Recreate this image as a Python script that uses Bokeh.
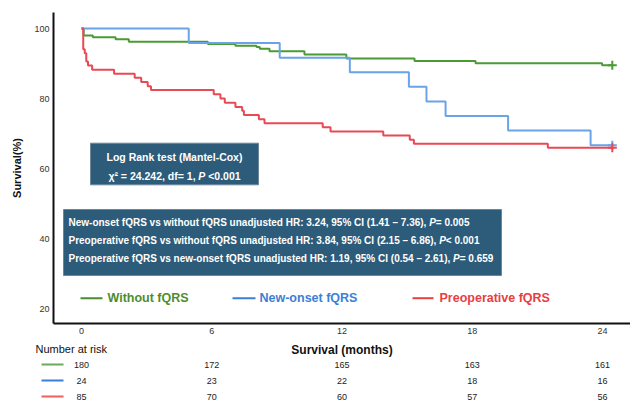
from bokeh.plotting import figure
from bokeh.models import Range1d, ColumnDataSource, FixedTicker
from bokeh.core.properties import value
from bokeh.embed import file_html
from bokeh.resources import INLINE

# ---------------- data ----------------
series_names = ["Without fQRS", "New-onset fQRS", "Preoperative fQRS"]

green_t = [0, 0.10, 0.52, 1.57, 2.18, 5.82, 7.09, 8.06, 8.21, 8.66, 10.27, 12.2, 15.34, 18.15, 23.98, 24.45]
green_s = [100, 98.0, 97.5, 96.9, 96.2, 95.6, 95.1, 94.7, 94.2, 93.5, 92.6, 91.4, 90.7, 90.1, 89.5, 89.5]

blue_t = [0, 4.94, 9.13, 12.36, 15.08, 15.89, 16.77, 19.65, 23.45, 24.45]
blue_s = [100, 95.83, 91.67, 87.5, 83.33, 79.17, 75.0, 70.83, 66.67, 66.67]

red_t = [0, 0.08, 0.15, 0.22, 0.30, 0.49, 1.50, 2.45, 2.75, 3.05, 3.20, 6.09, 6.40, 6.60, 7.09,
         7.40, 7.48, 8.17, 8.43, 11.11, 11.47, 13.90, 15.12, 15.31, 21.48, 24.45]
red_s = [100, 94.1, 92.9, 90.6, 89.4, 88.2, 87.1, 85.9, 84.7, 83.5, 82.4, 81.2, 80.0, 78.8, 77.6,
         76.5, 75.3, 74.1, 72.9, 71.8, 70.6, 69.4, 68.2, 67.1, 65.9, 65.9]

x_ticks = [0, 6, 12, 18, 24]
y_ticks = [20, 40, 60, 80, 100]

risk_times = [0, 6, 12, 18, 24]
risk_without = [180, 172, 165, 163, 161]
risk_newonset = [24, 23, 22, 18, 16]
risk_preop = [85, 70, 60, 57, 56]

logrank_title = "Log Rank test (Mantel-Cox)"
logrank_pre = "\u03c7\u00b2 = 24.242, df= 1,"
logrank_post = "<0.001"

hr_pre = [
    "New-onset fQRS vs without fQRS unadjusted HR: 3.24, 95% CI (1.41 \u2013 7.36),",
    "Preoperative fQRS vs without fQRS unadjusted HR: 3.84, 95% CI (2.15 \u2013 6.86),",
    "Preoperative fQRS vs new-onset fQRS unadjusted HR: 1.19, 95% CI (0.54 \u2013 2.61),",
]
hr_post = ["= 0.005", "< 0.001", "= 0.659"]

# ---------------- styles ----------------
FONT = "Liberation Sans"
line_colors = ["#4b9a36", "#6aa3e8", "#e84a55"]
text_colors = ["#4e8d2f", "#3d7fd6", "#e8403f"]
table_colors = ["#6aaa5a", "#3d7fd6", "#f0605f"]
BOX_FILL = "#2d5b7a"
BOX_LINE = "#6c8799"

# Arial/Liberation Sans Bold advance widths (per 1000 em) for layout of mixed-style runs
_BW = {" ": 278, "(": 333, ")": 333, ",": 278, "-": 333, ".": 278, ":": 333, "<": 584, "=": 584,
       "%": 889, "\u2013": 556, "\u03c7": 556, "\u00b2": 333,
       "C": 722, "H": 722, "I": 278, "N": 722, "P": 667, "Q": 778, "R": 722, "S": 667,
       "a": 556, "d": 611, "e": 556, "f": 333, "h": 611, "i": 278, "j": 278, "n": 611, "o": 611,
       "p": 611, "r": 389, "s": 556, "t": 333, "u": 611, "v": 556, "w": 778}

def text_w(s, size):
    return sum(_BW.get(ch, 556) for ch in s) / 1000.0 * size

# page-pixel -> data helpers (frame spans whole figure)
def mx(px):
    return (px - 81) / 21.71

def vy(py):
    return 100 - (py - 28) / 3.5

W, H = 630, 407
p = figure(width=W, height=H, output_backend="svg", toolbar_location=None,
           x_range=Range1d(mx(0), mx(W)), y_range=Range1d(vy(H), vy(0)),
           min_border=0, min_border_left=0, min_border_right=0,
           min_border_top=0, min_border_bottom=0)
p.outline_line_color = None
p.xgrid.visible = False
p.ygrid.visible = False
p.background_fill_color = "white"
p.border_fill_color = "white"

x0_axis = mx(53)
y0_axis = vy(323)

# axes
for ax in (p.xaxis[0], p.yaxis[0]):
    ax.axis_line_width = 2
    ax.axis_line_color = "#111111"
    ax.major_tick_out = 0
    ax.major_tick_in = 0
    ax.minor_tick_line_color = None
    ax.major_label_text_font = FONT
    ax.major_label_text_font_size = "9px"
    ax.major_label_text_color = "#333333"
    ax.axis_label_text_font = FONT
    ax.axis_label_text_font_style = "bold"
    ax.axis_label_text_color = "#111111"

p.xaxis.fixed_location = y0_axis
p.xaxis.bounds = (x0_axis, mx(W))
p.xaxis.ticker = FixedTicker(ticks=x_ticks)
p.xaxis.major_label_standoff = 4
p.xaxis.axis_label = "Survival (months)"
p.xaxis.axis_label_text_font_size = "12px"
p.xaxis.axis_label_standoff = 6

p.yaxis.fixed_location = x0_axis
p.yaxis.bounds = (y0_axis, vy(12))
p.yaxis.ticker = FixedTicker(ticks=y_ticks)
p.yaxis.major_label_standoff = 4
p.yaxis.axis_label = "Survival(%)"
p.yaxis.axis_label_text_font_size = "11px"
p.yaxis.axis_label_standoff = 8

# curves
curves = [(green_t, green_s), (blue_t, blue_s), (red_t, red_s)]
for (t, s), c in zip(curves, line_colors):
    p.step(t, s, mode="after", line_color=c, line_width=2)
    p.scatter([t[-1]], [s[-1]], marker="cross", size=9, line_color=c, line_width=2)

def mixed_line(x_px, y_val, pre, post, size, space_after_p):
    """Draw 'pre P post' with bold text and italic P, starting at page x x_px."""
    w_pre = text_w(pre, size)
    w_sp = text_w(" ", size)
    w_p = text_w("P", size)
    common = dict(text_font=value(FONT), text_font_size=f"{size}px", text_color="white",
                  text_align="left", text_baseline="middle")
    p.text(x=[mx(x_px)], y=[y_val], text=[pre], text_font_style="bold", **common)
    p.text(x=[mx(x_px)], y=[y_val], text=["P"], x_offset=w_pre + w_sp,
           text_font_style="bold italic", **common)
    p.text(x=[mx(x_px)], y=[y_val], text=[post],
           x_offset=w_pre + w_sp + w_p + (w_sp if space_after_p else 0),
           text_font_style="bold", **common)

# box 1: log rank
p.quad(left=[mx(90)], right=[mx(258)], top=[vy(142.7)], bottom=[vy(184.3)],
       fill_color=BOX_FILL, line_color=BOX_LINE, line_width=1)
p.text(x=[mx(174)], y=[vy(156)], text=[logrank_title],
       text_font=value(FONT), text_font_style="bold", text_font_size="10.5px",
       text_color="white", text_align="center", text_baseline="middle")
lr_size = 10.5
lr_total = text_w(logrank_pre + " P " + logrank_post, lr_size)
mixed_line(174 - lr_total / 2, vy(175), logrank_pre, logrank_post, lr_size, True)

# box 2: hazard ratios
p.quad(left=[mx(63)], right=[mx(501)], top=[vy(209)], bottom=[vy(275)],
       fill_color=BOX_FILL, line_color=BOX_LINE, line_width=1)
hr_y = [vy(221.7), vy(240), vy(258)]
for yy, pre, post in zip(hr_y, hr_pre, hr_post):
    mixed_line(68, yy, pre, post, 10, False)

# legend inside plot
leg_y = vy(297.7)
leg_x0 = [mx(80), mx(232), mx(412)]
leg_x1 = [mx(102), mx(255), mx(433)]
leg_tx = [mx(107), mx(259), mx(439)]
p.segment(x0=leg_x0, y0=[leg_y] * 3, x1=leg_x1, y1=[leg_y] * 3, line_color=text_colors, line_width=2)
p.text(x=leg_tx, y=[leg_y] * 3, text=series_names, text_color=text_colors,
       text_font=value(FONT), text_font_style="bold", text_font_size="12.5px",
       text_align="left", text_baseline="middle")

# number at risk table
p.text(x=[mx(35)], y=[vy(348)], text=["Number at risk"], text_font=value(FONT),
       text_font_size="11px", text_color="#111111", text_align="left", text_baseline="middle")
row_y = [vy(364), vy(380), vy(396)]
p.segment(x0=[mx(41)] * 3, y0=row_y, x1=[mx(63)] * 3, y1=row_y, line_color=table_colors, line_width=2)
for rv, yy in zip([risk_without, risk_newonset, risk_preop], row_y):
    src = ColumnDataSource(dict(x=risk_times, y=[yy] * len(risk_times), t=[str(v) for v in rv]))
    p.text(x="x", y="y", text="t", source=src, text_font=value(FONT), text_font_size="9px",
           text_color="#222222", text_align="center", text_baseline="middle")

open("out.html", "w").write(file_html(p, INLINE))
